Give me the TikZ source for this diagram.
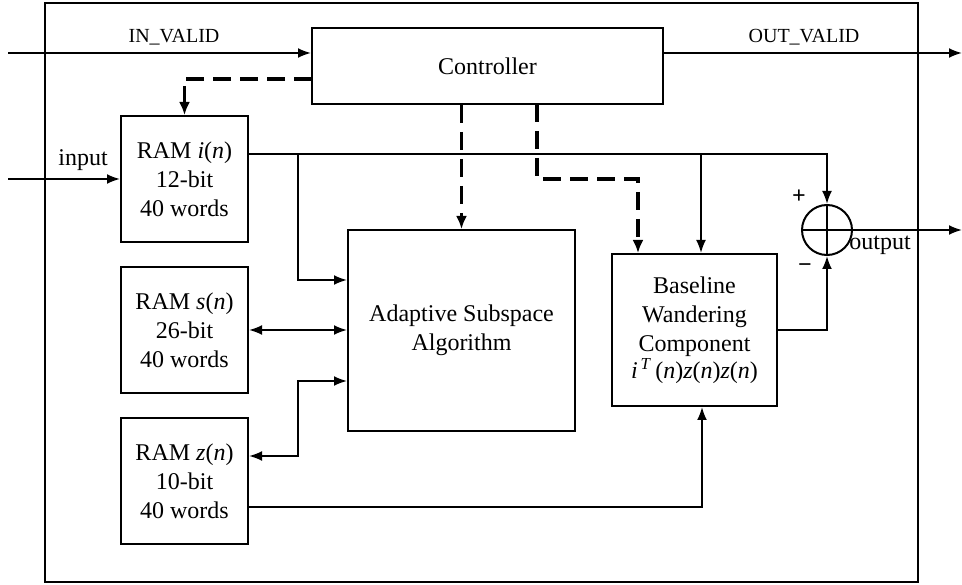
\documentclass[tikz,border=0pt]{standalone}
\usepackage{fontspec}
\setmainfont{Liberation Serif}
\usetikzlibrary{arrows.meta,calc}
\begin{document}
\begin{tikzpicture}[x=1pt,y=-1pt,
  every node/.style={font=\fontsize{24}{29}\selectfont},
  blk/.style={draw,line width=2pt,rectangle,align=center,inner sep=0pt},
  wire/.style={line width=2pt},
  arr/.style={wire,-{Latex[length=13pt,width=10pt]}},
  darr/.style={wire,{Latex[length=13pt,width=10pt]}-{Latex[length=13pt,width=10pt]}},
  ctl/.style={line width=3.8pt,dash pattern=on 18pt off 9pt,-{Latex[length=13pt,width=11pt]}},
  sig/.style={font=\fontsize{20}{24}\selectfont}
]
\useasboundingbox (0,0) rectangle (962,585);
% outer frame
\draw[line width=2pt] (45,3) rectangle (918,582);

% blocks
\node[blk,minimum width=351pt,minimum height=76pt] (ctrl) at (487.5,66) {Controller};
\node[blk,minimum width=127pt,minimum height=126pt] (rami) at (184.5,179) {RAM \textit{i}(\textit{n})\\12-bit\\40 words};
\node[blk,minimum width=127pt,minimum height=126pt] (rams) at (184.5,330) {RAM \textit{s}(\textit{n})\\26-bit\\40 words};
\node[blk,minimum width=127pt,minimum height=126pt] (ramz) at (184.5,481) {RAM \textit{z}(\textit{n})\\10-bit\\40 words};
\node[blk,minimum width=227pt,minimum height=201pt] (asa) at (461.5,330.5) {Adaptive Subspace\\Algorithm};
\node[blk,minimum width=165pt,minimum height=152pt] (bwc) at (694.5,330) {Baseline\\Wandering\\Component\\[-2pt]\textit{i}\textsuperscript{\,\textit{T}}\,(\textit{n})\textit{z}(\textit{n})\textit{z}(\textit{n})};
\node[draw,circle,line width=2pt,minimum size=50pt,inner sep=0pt] (sum) at (827,230) {};
\draw[wire] (sum.north) -- (sum.south) (sum.west) -- (sum.east);

% coordinates
\coordinate (inv) at (8,53);
\coordinate (outv) at (962,53);
\coordinate (inp) at (8,179);
\coordinate (outp) at (962,230);
\coordinate (j1) at (298,154);
\coordinate (j2) at (701,154);
\coordinate (zr) at (298,456);
\coordinate (za) at (298,381);
\coordinate (zb) at (702,507);
\coordinate (d1) at (312,79);
\coordinate (d2) at (537,104);
\coordinate (d3) at (638,179);

% signals
\draw[arr] (inv) -- (inv -| ctrl.west);
\node[sig] (inl) at (174,37) {IN\_VALID};
\draw[arr] (ctrl.east |- outv) -- (outv);
\node[sig] (outl) at (804,37) {OUT\_VALID};
\draw[arr] (inp) -- (rami.west);
\node (inpl) at (83,160) {input};

% data wires
\draw[arr] (rami.east |- j1) -| (sum.north);
\draw[arr] (j1) |- (asa.west |- 0,280);
\draw[arr] (j2) -- (j2 |- bwc.north);
\draw[darr] (rams.east) -- (rams.east -| asa.west);
\draw[darr] (ramz.east |- zr) -- (zr) -- (za) -- (asa.west |- za);
\draw[arr] (ramz.east |- zb) -- (zb) -- (zb |- bwc.south);
\draw[arr] (bwc.east) -| (sum.south);
\draw[arr] (sum.east) -- (outp);
\node (outl2) at (880,245) {output};
\node (plus) at (799,197) {\textbf{+}};
\node (minus) at (805,268) {\textbf{−}};

% control (dashed)
\draw[ctl] (d1) -| (rami.north);
\draw[ctl] (ctrl.south -| asa.north) -- (asa.north);
\draw[ctl] (d2) |- (d3) -- (d3 |- bwc.north);
\end{tikzpicture}
\end{document}
